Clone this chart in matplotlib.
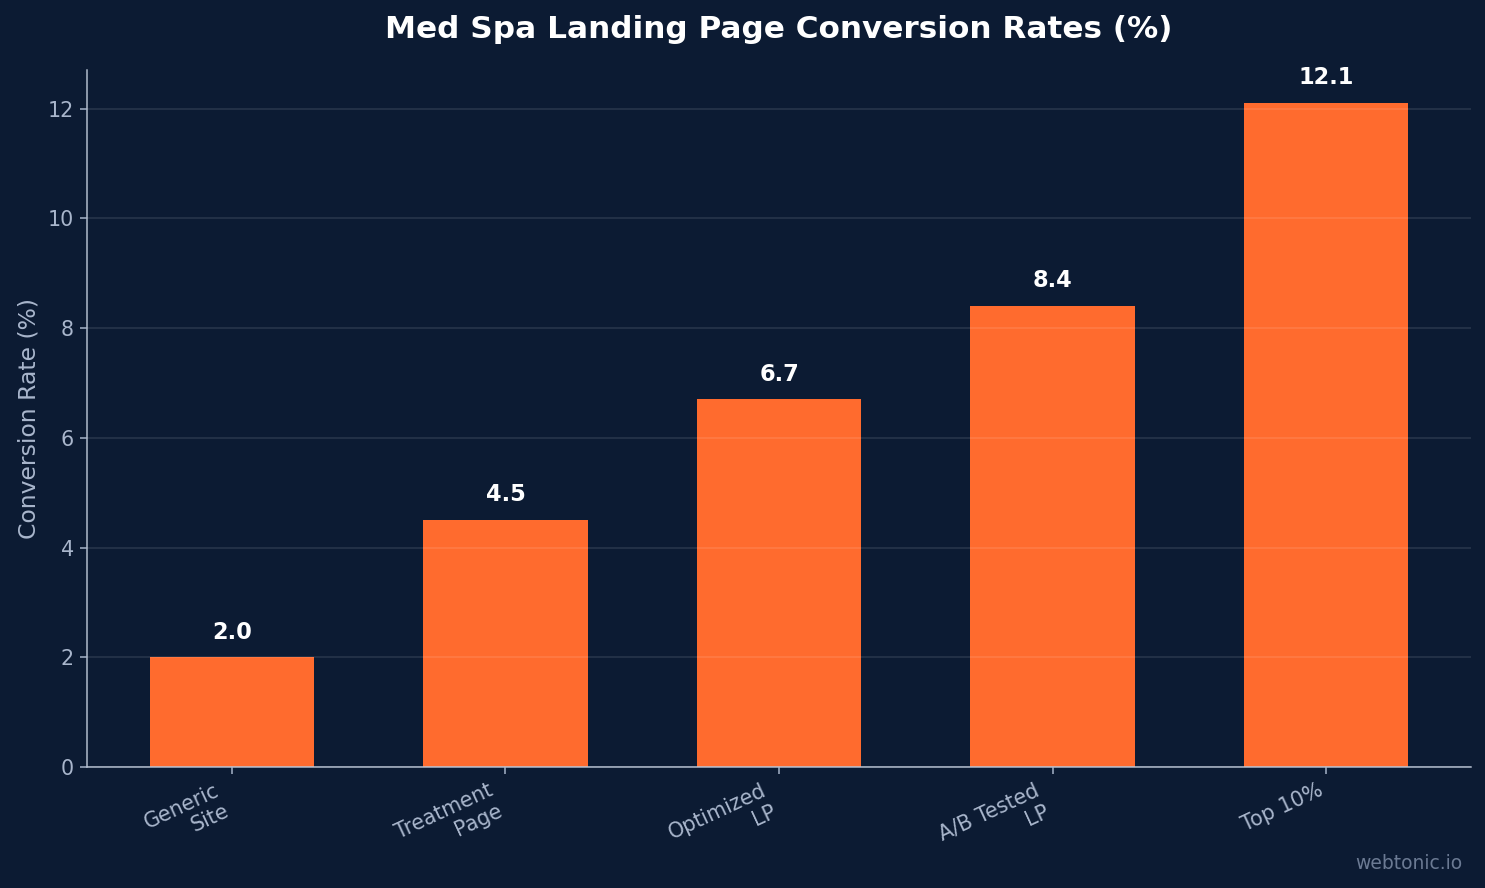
import matplotlib.pyplot as plt

plt.rcParams["font.family"] = ["DejaVu Sans"]

categories = ["Generic\nSite", "Treatment\nPage", "Optimized\nLP", "A/B Tested\nLP", "Top 10%"]
rates = [2.0, 4.5, 6.7, 8.4, 12.1]

BG = "#0c1b33"
BAR = "#ff6b2e"
TXT = "#a9b6cc"

DPI = 135
fig = plt.figure(figsize=(1485 / DPI, 888 / DPI), dpi=DPI, facecolor=BG)
ax = fig.add_axes([87 / 1485, 1 - 767 / 888, (1471 - 87) / 1485, (767 - 70) / 888])
ax.set_facecolor(BG)

x = range(len(categories))
ax.bar(x, rates, width=0.6, color=BAR, zorder=1)
for xi, v in zip(x, rates):
    ax.text(xi, v + 0.25, f"{v:.1f}", ha="center", va="bottom",
            color="white", fontsize=12, fontweight="bold")

ax.set_xticks(list(x))
ax.set_xticklabels(categories, rotation=25, ha="right", fontsize=11, color=TXT)
ax.tick_params(axis="y", labelsize=11, colors=TXT)
ax.tick_params(axis="x", colors=TXT)
ax.set_ylabel("Conversion Rate (%)", fontsize=12.5, color=TXT)
ax.grid(axis="y", color="white", alpha=0.1, linewidth=1, zorder=2)
ax.set_axisbelow(False)

for s in ("top", "right"):
    ax.spines[s].set_visible(False)
for s in ("left", "bottom"):
    ax.spines[s].set_color("#b4bfd0")

ax.set_title("Med Spa Landing Page Conversion Rates (%)", pad=17,
             fontsize=16.6, fontweight="bold", color="white")
fig.text(0.985, 0.017, "webtonic.io", ha="right", va="bottom",
         fontsize=10, color="#6b7a93")

fig.savefig("out.png", dpi=DPI, facecolor=BG)
